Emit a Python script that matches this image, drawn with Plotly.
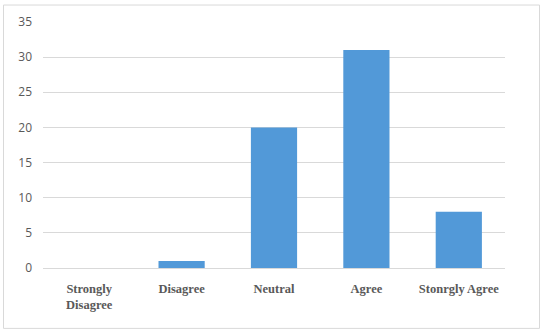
import plotly.graph_objects as go

categories = ["Strongly<br>Disagree", "Disagree", "Neutral", "Agree", "Stonrgly Agree"]
values = [0, 1, 20, 31, 8]
y_ticks = [0, 5, 10, 15, 20, 25, 30, 35]

W, H = 543, 332
L, R, T, B = 43, 38, 21.5, 64
pw = W - L - R
ph = H - T - B

fig = go.Figure(go.Bar(
    x=categories, y=values,
    marker=dict(color="#5299d8", line=dict(width=0)),
))

def px2paper_x(px):
    return (px - L) / pw

def py2paper_y(py):
    return (H - B - py) / ph

fig.add_shape(type="rect", xref="paper", yref="paper",
              x0=px2paper_x(3.5), x1=px2paper_x(539.5),
              y0=py2paper_y(328.5), y1=py2paper_y(4.5),
              line=dict(color="#d9d9d9", width=1), fillcolor="rgba(0,0,0,0)", layer="below")

fig.update_layout(
    width=W, height=H,
    margin=dict(l=L, r=R, t=T, b=B),
    paper_bgcolor="white", plot_bgcolor="white",
    bargap=0.5,
    showlegend=False,
    xaxis=dict(showgrid=False, showline=False, zeroline=False, ticks="",
               tickfont=dict(family="Liberation Serif", size=12.5, color="#595959", weight="bold"),
               ticklabelstandoff=11),
    yaxis=dict(range=[0, 35], tickvals=y_ticks, showgrid=True, gridcolor="#d9d9d9", gridwidth=1,
               zeroline=True, zerolinecolor="#d9d9d9", zerolinewidth=1, showline=False, ticks="",
               tickfont=dict(family="Open Sans", size=12, color="#595959"),
               ticklabelstandoff=10),
)

fig.write_html("out.html")
